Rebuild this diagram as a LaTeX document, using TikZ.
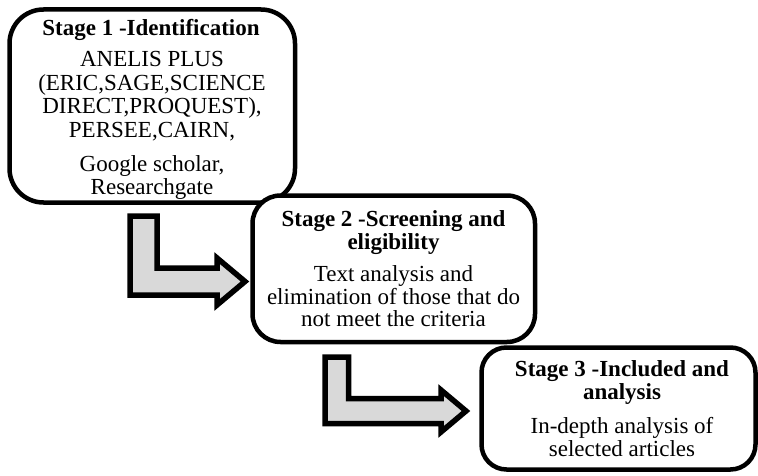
\documentclass[tikz,border=0pt]{standalone}
\usepackage{fontspec}
\setmainfont{Liberation Serif}
\definecolor{arrowgray}{HTML}{D9D9D9}
\tikzset{
  stagebox/.style={draw=black, line width=4.5pt, rounded corners=28pt, fill=white, inner sep=0pt},
  blockarrow/.style={draw=black, line width=5.5pt, fill=arrowgray, line join=miter},
  ttl/.style={font=\fontsize{23}{24}\selectfont\bfseries, anchor=base, inner sep=0pt},
  txt/.style={font=\fontsize{23}{24}\selectfont, anchor=base, inner sep=0pt}
}
\begin{document}
\begin{tikzpicture}[x=1pt, y=-1pt]
\useasboundingbox (0,0) rectangle (758,476);

% stage boxes
\node[stagebox, rounded corners=34pt, minimum width=285.5pt, minimum height=193pt] (s1) at (152.25,106) {};
\node[stagebox, minimum width=282.5pt, minimum height=146.5pt] (s2) at (393.75,268.75) {};
\node[stagebox, rounded corners=25pt, minimum width=274pt, minimum height=122pt] (s3) at (618.5,408.5) {};

% stage 1 text
\node[ttl] (t1) at (151,35.5) {Stage 1 -Identification};
\node[txt] (t1a) at (152,66.5) {ANELIS PLUS};
\node[txt] (t1b) at (152,90.3) {(ERIC,SAGE,SCIENCE};
\node[txt] (t1c) at (152,114) {DIRECT,PROQUEST),};
\node[txt] (t1d) at (152,137.8) {PERSEE,CAIRN,};
\node[txt] (t1e) at (152,171.5) {Google scholar,};
\node[txt] (t1f) at (152,194) {Researchgate};

% stage 2 text
\node[ttl] (t2) at (393.5,226.7) {Stage 2 -Screening and};
\node[ttl] (t2x) at (393.5,249) {eligibility};
\node[txt] (t2a) at (393.5,281.7) {Text analysis and};
\node[txt] (t2b) at (393.5,304.3) {elimination of those that do};
\node[txt] (t2c) at (393.5,326.8) {not meet the criteria};

% stage 3 text
\node[ttl] (t3) at (622,376.7) {Stage 3 -Included and};
\node[ttl] (t3x) at (622,399.3) {analysis};
\node[txt] (t3a) at (622,433) {In-depth analysis of};
\node[txt] (t3b) at (622,456.5) {selected articles};

% bent block arrows between the stages
\draw[blockarrow] (130,216) -- (157,216) -- (157,268) -- (217,268) -- (217,258)
  -- (245,281.5) -- (217,305) -- (217,295) -- (130,295) -- cycle;
\draw[blockarrow] (325,357) -- (348.5,357) -- (348.5,398.5) -- (441,398.5) -- (441,390)
  -- (466,411) -- (441,432) -- (441,423.5) -- (325,423.5) -- cycle;
\end{tikzpicture}
\end{document}
